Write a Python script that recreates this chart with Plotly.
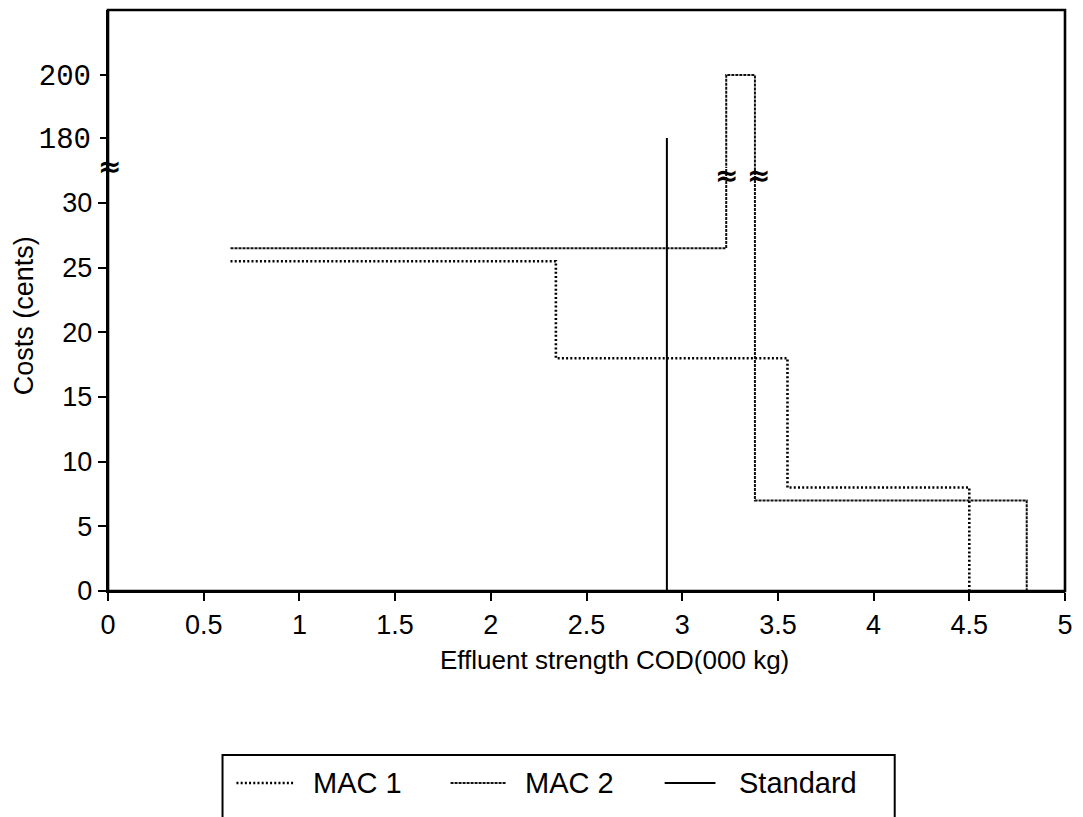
import plotly.graph_objects as go

# Marginal abatement cost curves (step functions) and the discharge standard
mac1_x = [0.64, 2.34, 2.34, 3.55, 3.55, 4.5, 4.5]
mac1_y = [25.5, 25.5, 18, 18, 8, 8, 0]

mac2_x = [0.64, 3.23, 3.23, 3.38, 3.38, 4.8, 4.8]
mac2_y = [26.5, 26.5, 200, 200, 7, 7, 0]

std_x = [2.92, 2.92]
std_y = [0, 180]

series_names = ["MAC 1", "MAC 2", "Standard"]

x_ticks = [0, 0.5, 1, 1.5, 2, 2.5, 3, 3.5, 4, 4.5, 5]
x_tick_text = ["0", "0.5", "1", "1.5", "2", "2.5", "3", "3.5", "4", "4.5", "5"]
y_low_ticks = [0, 5, 10, 15, 20, 25, 30]
y_high_ticks = [180, 200]

W, H = 1083, 817
L, R, T, B = 108, 14, 10, 226
PW, PH = W - L - R, H - T - B
BREAK_PX = 168  # pixel row where the broken y-axis switches scale


def px(xp):
    return (xp - L) / PW


def py(yp):
    return (H - B - yp) / PH


split = py(BREAK_PX)

styles = {
    "MAC 1": dict(color="black", width=2.6, dash="2px,2.2px"),
    "MAC 2": dict(color="#111111", width=2.0, dash="3px,1px"),
    "Standard": dict(color="black", width=2.0),
}

fig = go.Figure()
data = {"MAC 1": (mac1_x, mac1_y), "MAC 2": (mac2_x, mac2_y), "Standard": (std_x, std_y)}
for name in series_names:
    xs, ys = data[name]
    for xa, ya in (("x", "y"), ("x2", "y2")):
        fig.add_trace(go.Scatter(x=xs, y=ys, mode="lines", name=name, line=styles[name],
                                 xaxis=xa, yaxis=ya, showlegend=False, hoverinfo="skip"))

sans = "Liberation Sans, Arial, sans-serif"
mono = "Liberation Mono, Courier New, monospace"

fig.update_layout(
    width=W, height=H,
    margin=dict(l=L, r=R, t=T, b=B),
    paper_bgcolor="white", plot_bgcolor="white",
    xaxis=dict(domain=[0, 1], range=[0, 5], tickvals=x_ticks, ticktext=x_tick_text,
               showgrid=False, zeroline=False, showline=True, linecolor="black", linewidth=2.4,
               ticks="outside", ticklen=8, tickwidth=2, tickcolor="black",
               tickfont=dict(family=sans, size=27, color="black"), anchor="y"),
    yaxis=dict(domain=[0, split], range=[0, (H - B - BREAK_PX) / 12.933], tickvals=y_low_ticks,
               showgrid=False, zeroline=False, showline=True, linecolor="black", linewidth=2.4,
               ticks="outside", ticklen=8, tickwidth=2, tickcolor="black",
               tickfont=dict(family=sans, size=27, color="black"), anchor="x"),
    xaxis2=dict(domain=[0, 1], matches="x", visible=False, anchor="y2"),
    yaxis2=dict(domain=[split, 1], range=[170.5, 220.6], tickvals=y_high_ticks,
                showgrid=False, zeroline=False, showline=True, linecolor="black", linewidth=2.4,
                ticks="outside", ticklen=6, tickwidth=2, tickcolor="black", ticklabelstandoff=3,
                tickfont=dict(family=mono, size=29, color="black"), anchor="x2"),
)

shapes = [
    # plot frame
    dict(type="rect", xref="paper", yref="paper", x0=0, x1=1, y0=0, y1=1,
         line=dict(color="black", width=2.6)),
    # legend box (runs off the bottom edge)
    dict(type="rect", xref="paper", yref="paper", x0=px(223), x1=px(898), y0=py(840), y1=py(755),
         line=dict(color="black", width=2)),
]

legend_y = 783
sample_spans = {"MAC 1": (237, 295), "MAC 2": (452, 508), "Standard": (667, 718)}
label_left = {"MAC 1": 312, "MAC 2": 525, "Standard": 740}
annotations = []
for name in series_names:
    a, b = sample_spans[name]
    st = styles[name]
    shapes.append(dict(type="line", xref="paper", yref="paper", x0=px(a), x1=px(b),
                       y0=py(legend_y), y1=py(legend_y),
                       line=dict(color=st["color"], width=st["width"], dash=st.get("dash", "solid"))))
    annotations.append(dict(xref="paper", yref="paper", x=px(label_left[name]), y=py(legend_y),
                            text=name, showarrow=False, xanchor="left", yanchor="middle",
                            font=dict(family=sans, size=29, color="black")))

# axis titles
annotations.append(dict(xref="paper", yref="paper", x=px(617), y=py(660),
                        text="Effluent strength COD(000 kg)", showarrow=False,
                        xanchor="center", yanchor="middle",
                        font=dict(family=sans, size=26, color="black")))
annotations.append(dict(xref="paper", yref="paper", x=px(24), y=py(316),
                        text="Costs (cents)", showarrow=False, textangle=-90,
                        xanchor="center", yanchor="middle",
                        font=dict(family=sans, size=27, color="black")))

# scale-break marks on the y axis and on the MAC 2 spike
for bx, by in ((110, 166), (729, 175), (761, 175)):
    annotations.append(dict(xref="paper", yref="paper", x=px(bx), y=py(by), text="<b>≈</b>",
                            showarrow=False, xanchor="center", yanchor="middle",
                            font=dict(family="DejaVu Sans", size=28, color="black")))

fig.update_layout(shapes=shapes, annotations=annotations)

fig.write_html("out.html")
